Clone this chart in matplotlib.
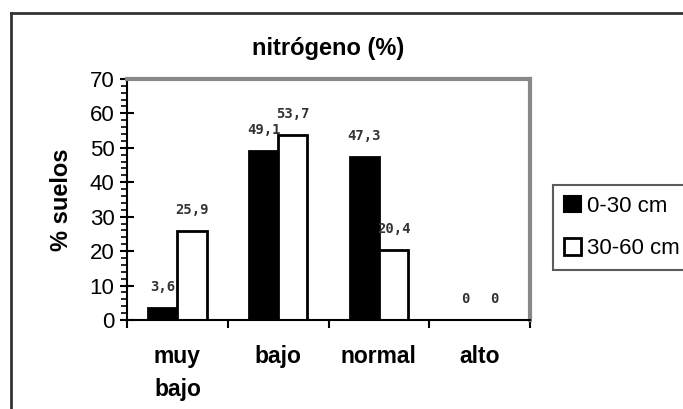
import numpy as np
import matplotlib
matplotlib.use('Agg')
import matplotlib.pyplot as plt
from matplotlib.patches import Patch
from matplotlib.lines import Line2D
from matplotlib.ticker import MultipleLocator

plt.rcParams['font.family'] = ['Liberation Sans', 'DejaVu Sans']

categories = ['muy\nbajo', 'bajo', 'normal', 'alto']
depth_0_30 = [3.6, 49.1, 47.3, 0]
depth_30_60 = [25.9, 53.7, 20.4, 0]
series_names = ['0-30 cm', '30-60 cm']

fig = plt.figure(figsize=(6.83, 4.09), dpi=100)
ax = fig.add_axes([0.186, 0.2176, 0.59, 0.5895])

x = np.arange(len(categories))
w = 0.29
b1 = ax.bar(x - w / 2, depth_0_30, w, color='black', edgecolor='black', linewidth=2)
b2 = ax.bar(x + w / 2, depth_30_60, w, color='white', edgecolor='black', linewidth=2)

# data labels above each bar, comma decimal
for bars, vals in ((b1, depth_0_30), (b2, depth_30_60)):
    for rect, v in zip(bars, vals):
        txt = ('%g' % v).replace('.', ',')
        ax.annotate(txt, (rect.get_x() + rect.get_width() / 2, v),
                    xytext=(0, 15), textcoords='offset points',
                    ha='center', va='center', fontsize=10, fontweight='bold',
                    family='DejaVu Sans Mono', color='#333333')

ax.set_xlim(-0.5, 3.5)
ax.set_ylim(0, 70)

ax.set_xticks(x)
ax.set_xticklabels(categories, fontsize=16.5, fontweight='bold', linespacing=1.55)
ax.tick_params(axis='x', which='major', length=0, pad=18)
ax.set_xticks(np.arange(-0.5, 4, 1), minor=True)
ax.tick_params(axis='x', which='minor', length=6, width=1.5, direction='out')

ax.yaxis.set_major_locator(MultipleLocator(10))
ax.yaxis.set_minor_locator(MultipleLocator(2))
ax.tick_params(axis='y', which='major', direction='inout', length=10, width=1.5,
               labelsize=16, pad=4)
ax.tick_params(axis='y', which='minor', direction='out', length=4, width=1.2)

ax.set_ylabel('% suelos', fontsize=17, fontweight='bold', labelpad=12)
ax.set_title('nitrógeno (%)', fontsize=17, fontweight='bold', pad=17)

for s in ('top', 'right'):
    ax.spines[s].set_color('#888888')
    ax.spines[s].set_linewidth(3)
for s in ('left', 'bottom'):
    ax.spines[s].set_color('black')
    ax.spines[s].set_linewidth(1.5)

handles = [Patch(facecolor='black', edgecolor='black', linewidth=1.5),
           Patch(facecolor='white', edgecolor='black', linewidth=2)]
leg = fig.legend(handles, series_names, loc='upper left',
                 bbox_to_anchor=(553 / 683, 1 - 185 / 409), fontsize=16,
                 frameon=True, fancybox=False, handlelength=0.75, handleheight=0.75,
                 handletextpad=0.3, labelspacing=0.95, borderpad=0.5,
                 borderaxespad=0)
leg.get_frame().set_edgecolor('#333333')
leg.get_frame().set_linewidth(1.5)

# outer chart border, left and top edges
fig.add_artist(Line2D([11 / 683, 11 / 683], [0, 1 - 13 / 409], color='#333333',
                      linewidth=2, transform=fig.transFigure))
fig.add_artist(Line2D([11 / 683, 1], [1 - 13 / 409, 1 - 13 / 409], color='#333333',
                      linewidth=2, transform=fig.transFigure))

fig.savefig('out.png', dpi=100)
